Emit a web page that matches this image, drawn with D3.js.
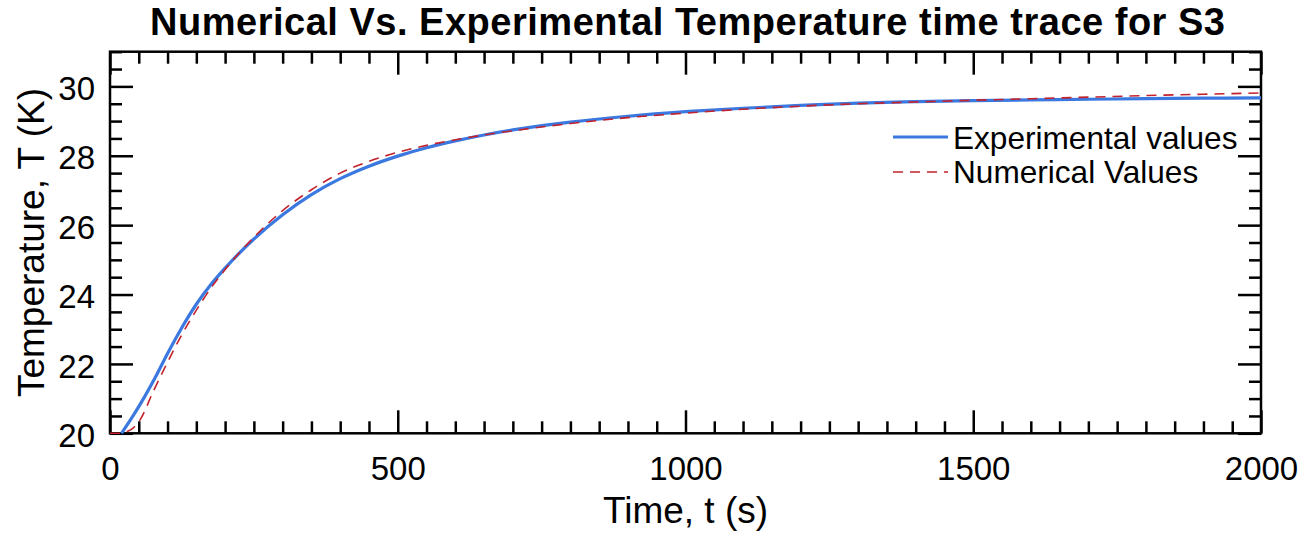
<!DOCTYPE html>
<html>
<head>
<meta charset="utf-8">
<script src="https://cdn.jsdelivr.net/npm/d3@7"></script>
<style>
  html, body { margin: 0; padding: 0; background: #fff; }
  svg { display: block; }
  text { font-family: "Liberation Sans", Arial, Helvetica, sans-serif; fill: #000; }
</style>
</head>
<body>
<svg id="chart" width="1316" height="535"></svg>
<script>
// ---- Data ----
const chartTitle = "Numerical Vs. Experimental Temperature time trace for S3";
const xLabel = "Time, t (s)";
const yLabel = "Temperature, T (K)";
const seriesNames = ["Experimental values", "Numerical Values"];

const xTickValues = [0, 500, 1000, 1500, 2000];
const yTickValues = [20, 22, 24, 26, 28, 30];

const expTime = [20, 40, 60, 80, 100, 125, 150, 175, 200, 250, 300, 350, 400, 450, 500, 550, 600, 650, 700, 800, 900, 1000, 1100, 1200, 1300, 1400, 1500, 1600, 1700, 1800, 1900, 2000];
const expTemp = [20.0, 20.5, 21.05, 21.65, 22.3, 23.05, 23.72, 24.28, 24.76, 25.6, 26.3, 26.88, 27.34, 27.7, 27.99, 28.23, 28.43, 28.6, 28.745, 28.97, 29.14, 29.27, 29.37, 29.45, 29.52, 29.56, 29.59, 29.61, 29.63, 29.645, 29.66, 29.67];

const numTime = [0, 20, 30, 40, 52, 75, 100, 125, 150, 175, 200, 250, 300, 350, 400, 450, 500, 550, 600, 650, 700, 800, 900, 1000, 1100, 1200, 1300, 1400, 1500, 1600, 1700, 1800, 1900, 2000];
const numTemp = [20.0, 20.0, 20.05, 20.15, 20.38, 21.2, 22.05, 22.85, 23.55, 24.18, 24.72, 25.65, 26.42, 27.02, 27.5, 27.84, 28.1, 28.3, 28.46, 28.6, 28.72, 28.93, 29.1, 29.23, 29.34, 29.43, 29.5, 29.55, 29.6, 29.645, 29.69, 29.735, 29.775, 29.81];

// ---- Layout ----
const svg = d3.select("#chart");
const pL = 110, pR = 1261, pT = 51.7, pB = 433.3;

const x = d3.scaleLinear().domain([0, 2000]).range([pL, pR]);
const y = d3.scaleLinear().domain([20, 31]).range([pB, pT]);

const majorLen = 23, minorLen = 12;
const xMinor = d3.range(0, 2001, 50).filter(v => v % 500 !== 0);
const yMinor = d3.range(20, 31.01, 0.5).filter(v => Math.abs(v / 2 - Math.round(v / 2)) > 1e-6);

function styleAxis(g) {
  g.select(".domain").remove();
  g.selectAll(".tick line").attr("stroke", "#000").attr("stroke-width", 2.5);
}

// bottom axis (labels + inward ticks)
svg.append("g").attr("transform", `translate(0,${pB})`)
  .call(d3.axisBottom(x).tickValues(xTickValues).tickSize(-majorLen).tickPadding(23).tickFormat(d3.format("d")))
  .call(styleAxis)
  .call(g => g.selectAll(".tick text").attr("font-size", 33).attr("font-family", "Liberation Sans, Arial, sans-serif"));
svg.append("g").attr("transform", `translate(0,${pB})`)
  .call(d3.axisBottom(x).tickValues(xMinor).tickSize(-minorLen).tickFormat(""))
  .call(styleAxis);
// top axis
svg.append("g").attr("transform", `translate(0,${pT})`)
  .call(d3.axisTop(x).tickValues(xTickValues).tickSize(-majorLen).tickFormat(""))
  .call(styleAxis);
svg.append("g").attr("transform", `translate(0,${pT})`)
  .call(d3.axisTop(x).tickValues(xMinor).tickSize(-minorLen).tickFormat(""))
  .call(styleAxis);
// left axis
svg.append("g").attr("transform", `translate(${pL},0)`)
  .call(d3.axisLeft(y).tickValues(yTickValues).tickSize(-majorLen).tickPadding(15).tickFormat(d3.format("d")))
  .call(styleAxis)
  .call(g => g.selectAll(".tick text").attr("font-size", 33).attr("dy", "0.4em").attr("font-family", "Liberation Sans, Arial, sans-serif"));
svg.append("g").attr("transform", `translate(${pL},0)`)
  .call(d3.axisLeft(y).tickValues(yMinor).tickSize(-minorLen).tickFormat(""))
  .call(styleAxis);
// right axis
svg.append("g").attr("transform", `translate(${pR},0)`)
  .call(d3.axisRight(y).tickValues(yTickValues).tickSize(-majorLen).tickFormat(""))
  .call(styleAxis);
svg.append("g").attr("transform", `translate(${pR},0)`)
  .call(d3.axisRight(y).tickValues(yMinor).tickSize(-minorLen).tickFormat(""))
  .call(styleAxis);

// frame
svg.append("rect").attr("x", pL).attr("y", pT).attr("width", pR - pL).attr("height", pB - pT)
  .attr("fill", "none").attr("stroke", "#000").attr("stroke-width", 2.5);

// clip
svg.append("clipPath").attr("id", "plotclip").append("rect")
  .attr("x", pL).attr("y", pT - 2).attr("width", pR - pL).attr("height", pB - pT + 4);

const line = d3.line().x(d => x(d[0])).y(d => y(d[1])).curve(d3.curveMonotoneX);
const expData = expTime.map((t, i) => [t, expTemp[i]]);
const numData = numTime.map((t, i) => [t, numTemp[i]]);

const blue = "#3b78e0", red = "#c3222c";
const plot = svg.append("g").attr("clip-path", "url(#plotclip)");
plot.append("path").datum(expData).attr("d", line)
  .attr("fill", "none").attr("stroke", blue).attr("stroke-width", 3.2);
plot.append("path").datum(numData).attr("d", line)
  .attr("fill", "none").attr("stroke", red).attr("stroke-width", 1.6).attr("stroke-dasharray", "10,7");

// legend
const legend = svg.append("g");
legend.append("line").attr("x1", 893).attr("x2", 948).attr("y1", 137).attr("y2", 137)
  .attr("stroke", blue).attr("stroke-width", 3.2);
legend.append("text").attr("x", 953).attr("y", 149).attr("font-size", 31.6).text(seriesNames[0]);
legend.append("line").attr("x1", 893).attr("x2", 948).attr("y1", 172).attr("y2", 172)
  .attr("stroke", red).attr("stroke-width", 1.6).attr("stroke-dasharray", "10,7");
legend.append("text").attr("x", 953).attr("y", 183).attr("font-size", 31.6).text(seriesNames[1]);

// title & axis labels
svg.append("text").attr("x", 687.5).attr("y", 35).attr("text-anchor", "middle")
  .attr("font-size", 38).attr("font-weight", "bold")
  .attr("textLength", 1075).attr("lengthAdjust", "spacing").text(chartTitle);
svg.append("text").attr("x", (pL + pR) / 2).attr("y", 523).attr("text-anchor", "middle")
  .attr("font-size", 37).text(xLabel);
svg.append("text").attr("transform", `translate(44,${(pT + pB) / 2}) rotate(-90)`)
  .attr("text-anchor", "middle").attr("font-size", 37).text(yLabel);
</script>
</body>
</html>
